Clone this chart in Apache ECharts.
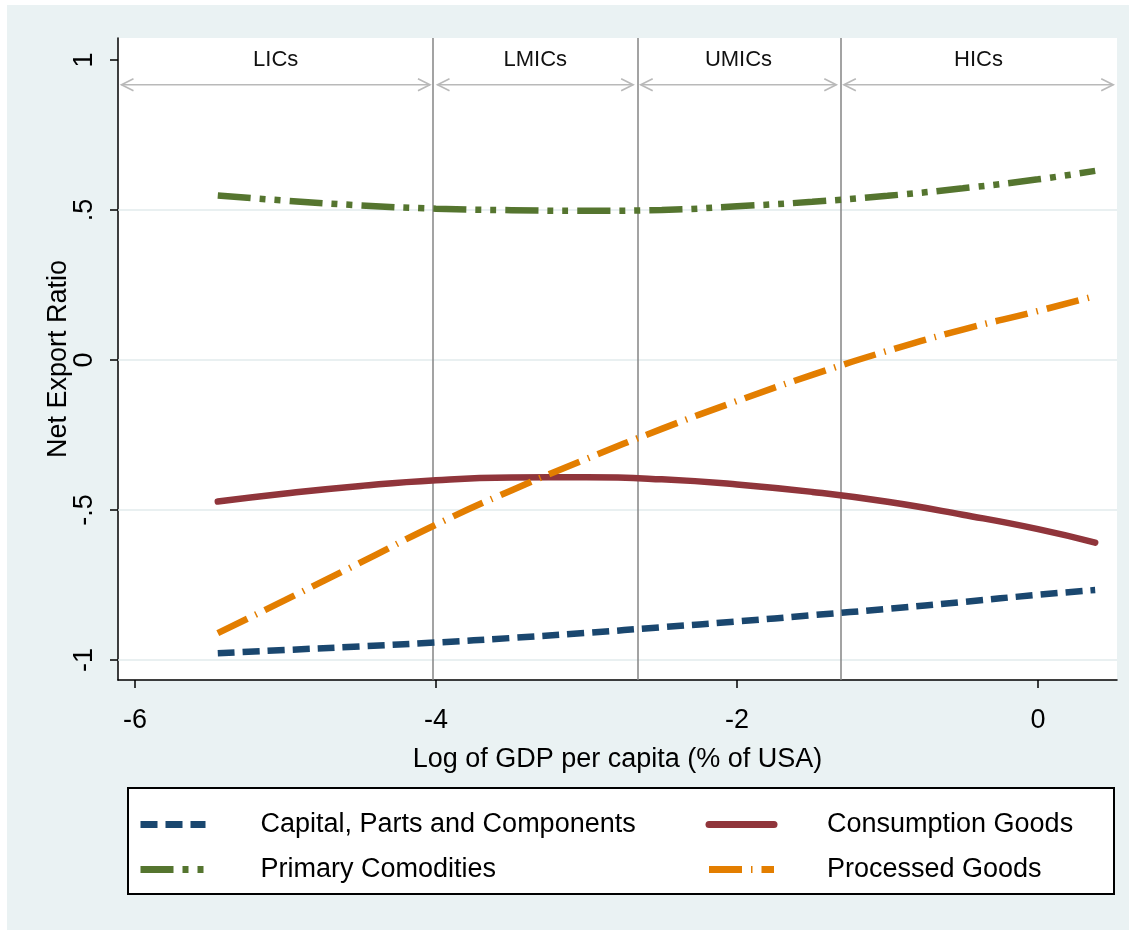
<!DOCTYPE html>
<html><head><meta charset="utf-8">
<script src="https://cdn.jsdelivr.net/npm/echarts@6/dist/echarts.min.js"></script>
<style>
html,body{margin:0;padding:0;background:#fff;}
#bg{position:absolute;left:7px;top:5px;width:1122px;height:925px;background:#eaf2f3;}
#chart{position:absolute;left:0;top:0;width:1134px;height:936px;}
</style></head><body><div id="bg"></div><div id="chart"></div>
<script>
// x: log of GDP per capita (% of USA)
const xValues = [-5.45, -5, -4.5, -4, -3.5, -3, -2.5, -2, -1.5, -1, -0.5, 0, 0.38];
const capitalParts = [-0.978, -0.967, -0.955, -0.942, -0.927, -0.910, -0.891, -0.872, -0.851, -0.830, -0.807, -0.783, -0.767];
const consumptionGoods = [-0.472, -0.445, -0.420, -0.401, -0.392, -0.391, -0.398, -0.415, -0.440, -0.473, -0.516, -0.564, -0.609];
const primaryCommodities = [0.548, 0.531, 0.515, 0.504, 0.499, 0.497, 0.500, 0.512, 0.527, 0.547, 0.572, 0.602, 0.630];
const processedGoods = [-0.911, -0.800, -0.675, -0.549, -0.435, -0.330, -0.230, -0.137, -0.050, 0.030, 0.101, 0.163, 0.213];

const seriesNames = ['Capital, Parts and Components', 'Consumption Goods', 'Primary Comodities', 'Processed Goods'];

// income group thresholds and bands
const thresholds = [-4.02, -2.66, -1.31];
const bandLabels = ['LICs', 'LMICs', 'UMICs', 'HICs'];
const bandStart = [-6.09, -3.99, -2.64, -1.29];
const bandEnd = [-4.04, -2.69, -1.34, 0.50];

const xTickValues = [-6, -4, -2, 0];
const xTickLabels = ['-6', '-4', '-2', '0'];
const yTickValues = [-1, -0.5, 0, 0.5, 1];
const yTickLabels = ['-1', '-.5', '0', '.5', '1'];
const yGridValues = [-1, -0.5, 0, 0.5];

const FONT = '"Liberation Sans", Arial, Helvetica, sans-serif';
const LABEL_Y = 1.0, ARROW_Y = 0.917;

const chart = echarts.init(document.getElementById('chart'));
const pts = arr => xValues.map((x, i) => [x, arr[i]]);

const lineSeries = (name, arr, color, type, cap) => ({
  name, type: 'line', data: pts(arr), smooth: 0.5, symbol: 'none', z: 5,
  lineStyle: { color, width: 6.5, type, cap: cap || 'butt' },
  itemStyle: { color }
});

chart.setOption({
  backgroundColor: 'transparent',
  animation: false,
  textStyle: { fontFamily: FONT },
  grid: { left: 118, top: 38, width: 999, height: 642, show: true, backgroundColor: '#fff', borderWidth: 0 },
  xAxis: {
    type: 'value', min: -6.113, max: 0.525,
    name: 'Log of GDP per capita (% of USA)', nameLocation: 'middle', nameGap: 66,
    nameTextStyle: { fontSize: 27, color: '#000', fontFamily: FONT },
    axisLine: { onZero: false, lineStyle: { color: '#000', width: 1.5 } },
    axisTick: { customValues: xTickValues, length: 8, lineStyle: { color: '#000', width: 1.5 } },
    axisLabel: { customValues: xTickValues, margin: 27, fontSize: 27, color: '#000', fontFamily: FONT,
      formatter: v => xTickLabels[xTickValues.indexOf(v)] },
    splitLine: { show: false }
  },
  yAxis: {
    type: 'value', min: -1.067, max: 1.073,
    name: 'Net Export Ratio', nameLocation: 'middle', nameGap: 46, nameMoveOverlap: false,
    nameTextStyle: { fontSize: 27, color: '#000', fontFamily: FONT },
    axisLine: { show: true, onZero: false, lineStyle: { color: '#000', width: 1.5 } },
    axisTick: { show: true, customValues: yTickValues, length: 8, lineStyle: { color: '#000', width: 1.5 } },
    axisLabel: { customValues: yTickValues, rotate: 90, margin: 20, fontSize: 27, color: '#000', fontFamily: FONT,
      formatter: v => yTickLabels[yTickValues.indexOf(v)] },
    splitLine: { show: false }
  },
  legend: {
    data: seriesNames, left: 132, top: 806, width: 1000,
    itemWidth: 65, itemHeight: 10, itemGap: 18,
    itemStyle: { opacity: 0 },
    lineStyle: { width: 7 },
    formatter: name => (seriesNames.indexOf(name) % 2 === 0 ? '{l|' : '{r|') + name + '}',
    textStyle: {
      fontSize: 27, color: '#000', fontFamily: FONT, lineHeight: 27,
      rich: {
        l: { fontSize: 27, color: '#000', fontFamily: FONT, width: 427, padding: [0, 0, 0, 50] },
        r: { fontSize: 27, color: '#000', fontFamily: FONT, width: 260, padding: [0, 0, 0, 48] }
      }
    }
  },
  graphic: [{
    type: 'rect', left: 127, top: 787, z: -1,
    shape: { width: 986, height: 106 },
    style: { fill: '#fff', stroke: '#000', lineWidth: 2 }
  }],
  series: [
    {
      name: 'grid', type: 'line', data: [], z: 1, silent: true,
      markLine: {
        silent: true, symbol: 'none', label: { show: false }, animation: false,
        data: [
          ...yGridValues.map(v => ({ yAxis: v, lineStyle: { color: '#e2ebed', width: 1.5, type: 'solid' } })),
          ...thresholds.map(v => ({ xAxis: v, lineStyle: { color: '#858585', width: 1.5, type: 'solid' } }))
        ]
      }
    },
    {
      name: 'bands', type: 'custom', z: 3, silent: true,
      data: bandLabels.map((l, i) => [bandStart[i], bandEnd[i], i]),
      renderItem: (params, api) => {
        const s = api.value(0), e = api.value(1), i = api.value(2);
        const p1 = api.coord([s, ARROW_Y]), p2 = api.coord([e, ARROW_Y]);
        const pl = api.coord([(s + e) / 2, LABEL_Y]);
        const st = { stroke: '#b9b9b9', lineWidth: 1.6, fill: 'none' };
        return {
          type: 'group', children: [
            { type: 'line', shape: { x1: p1[0], y1: p1[1], x2: p2[0], y2: p2[1] }, style: st },
            { type: 'polyline', shape: { points: [[p1[0] + 12, p1[1] - 6], [p1[0], p1[1]], [p1[0] + 12, p1[1] + 6]] }, style: st },
            { type: 'polyline', shape: { points: [[p2[0] - 12, p2[1] - 6], [p2[0], p2[1]], [p2[0] - 12, p2[1] + 6]] }, style: st },
            { type: 'text', x: pl[0], y: pl[1], style: { text: bandLabels[i], fill: '#111', font: '22px ' + FONT, align: 'center', verticalAlign: 'middle' } }
          ]
        };
      }
    },
    lineSeries(seriesNames[0], capitalParts, '#1a476f', [17, 8]),
    lineSeries(seriesNames[1], consumptionGoods, '#90353b', 'solid', 'round'),
    lineSeries(seriesNames[2], primaryCommodities, '#55752f', [33, 9, 6, 9, 6, 9]),
    lineSeries(seriesNames[3], processedGoods, '#e37e00', [33, 9, 1.5, 9])
  ]
});
</script></body></html>
